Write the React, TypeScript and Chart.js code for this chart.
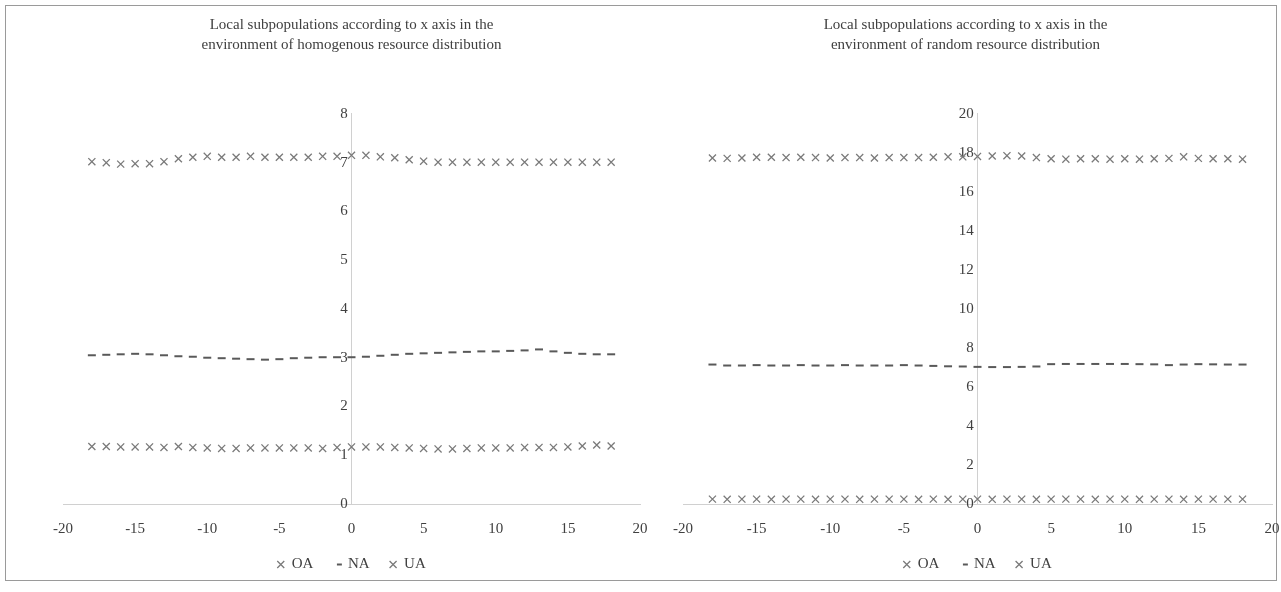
import React, { useEffect, useRef } from 'react';
import { Chart, registerables } from 'chart.js';

Chart.register(...registerables);

// ---------- data ----------
const xPositions = [
  -18, -17, -16, -15, -14, -13, -12, -11, -10, -9, -8, -7, -6, -5, -4, -3, -2, -1, 0,
  1, 2, 3, 4, 5, 6, 7, 8, 9, 10, 11, 12, 13, 14, 15, 16, 17, 18,
];

const seriesNames = ['OA', 'NA', 'UA'];

const leftTitle = [
  'Local subpopulations according to x axis in the',
  'environment of homogenous resource distribution',
];
const rightTitle = [
  'Local subpopulations according to x axis in the',
  'environment of random resource distribution',
];

const leftOA = [
  1.18, 1.18, 1.17, 1.17, 1.17, 1.16, 1.18, 1.16, 1.15, 1.14, 1.14, 1.15, 1.15, 1.15, 1.15, 1.15, 1.14, 1.16, 1.17,
  1.17, 1.17, 1.16, 1.15, 1.14, 1.13, 1.13, 1.14, 1.15, 1.15, 1.15, 1.16, 1.16, 1.16, 1.17, 1.19, 1.21, 1.19,
];
const leftNA = [
  3.05, 3.06, 3.07, 3.08, 3.07, 3.05, 3.03, 3.02, 3.0, 2.99, 2.98, 2.97, 2.96, 2.97, 2.99, 3.0, 3.01, 3.01, 3.01,
  3.02, 3.04, 3.06, 3.08, 3.09, 3.1, 3.11, 3.12, 3.13, 3.13, 3.14, 3.15, 3.17, 3.13, 3.1, 3.08, 3.07, 3.07,
];
const leftUA = [
  7.02, 7.0, 6.97, 6.98, 6.98, 7.02, 7.08, 7.11, 7.13, 7.11, 7.11, 7.13, 7.11, 7.11, 7.11, 7.11, 7.13, 7.13, 7.15,
  7.15, 7.12, 7.1, 7.06, 7.03, 7.01, 7.01, 7.01, 7.01, 7.01, 7.01, 7.01, 7.01, 7.01, 7.01, 7.01, 7.01, 7.01,
];

const rightOA = [
  0.25, 0.24, 0.25, 0.25, 0.24, 0.25, 0.25, 0.24, 0.25, 0.25, 0.24, 0.25, 0.25, 0.25, 0.24, 0.25, 0.24, 0.25, 0.25,
  0.24, 0.25, 0.25, 0.24, 0.25, 0.25, 0.25, 0.24, 0.25, 0.25, 0.24, 0.25, 0.25, 0.24, 0.25, 0.25, 0.25, 0.25,
];
const rightNA = [
  7.15, 7.1, 7.1, 7.12, 7.1, 7.1, 7.12, 7.1, 7.1, 7.12, 7.1, 7.1, 7.1, 7.12, 7.1, 7.08, 7.06, 7.05, 7.03,
  7.02, 7.02, 7.03, 7.05, 7.17, 7.18, 7.18, 7.18, 7.18, 7.18, 7.17, 7.16, 7.12, 7.15, 7.17, 7.16, 7.15, 7.15,
];
const rightUA = [
  17.74, 17.72, 17.74, 17.78, 17.78, 17.76, 17.78, 17.76, 17.74, 17.76, 17.76, 17.74, 17.76, 17.76, 17.76, 17.78,
  17.8, 17.8, 17.82, 17.84, 17.86, 17.84, 17.76, 17.7, 17.68, 17.7, 17.7, 17.68, 17.7, 17.68, 17.7, 17.72, 17.8,
  17.72, 17.7, 17.7, 17.68,
];

const xMin = -20;
const xMax = 20;
const xStep = 5;
const leftYMax = 8;
const leftYStep = 1;
const rightYMax = 20;
const rightYStep = 2;

// ---------- styles ----------
const FONT = "'Liberation Serif', 'Times New Roman', serif";
const TEXT = '#404040';
const CROSS = '#7a7a7a';
const DASH = '#595959';
const AXIS = '#d0d0d0';

type PanelProps = {
  title: string[];
  oa: number[];
  na: number[];
  ua: number[];
  yMax: number;
  yStep: number;
  left: number;
  width: number;
  padLeft: number;
  padRight: number;
  titleShift: number;
};

function ChartPanel(p: PanelProps) {
  const ref = useRef<HTMLCanvasElement | null>(null);

  useEffect(() => {
    if (!ref.current) return;
    const pts = (vals: number[]) => xPositions.map((x, i) => ({ x, y: vals[i] }));
    const crossDs = (label: string, vals: number[]) => ({
      label,
      data: pts(vals),
      showLine: false,
      pointStyle: 'crossRot',
      pointRadius: 5,
      pointHoverRadius: 5,
      pointBorderWidth: 1.3,
      pointBorderColor: CROSS,
      pointBackgroundColor: CROSS,
      borderColor: CROSS,
      backgroundColor: CROSS,
    });
    const dashDs = (label: string, vals: number[]) => ({
      label,
      data: pts(vals),
      showLine: false,
      pointStyle: 'line',
      pointRadius: 4,
      pointHoverRadius: 4,
      pointBorderWidth: 2,
      pointBorderColor: DASH,
      pointBackgroundColor: DASH,
      borderColor: DASH,
      backgroundColor: DASH,
    });

    const titleShiftPlugin = {
      id: 'titleShift',
      afterLayout(chart: any) {
        const t = chart.titleBlock;
        if (t) {
          t.left += p.titleShift;
          t.right += p.titleShift;
        }
      },
    };

    const font = { family: FONT, size: 15 };

    const chart = new Chart(ref.current, {
      type: 'scatter',
      data: {
        datasets: [
          crossDs(seriesNames[0], p.oa),
          dashDs(seriesNames[1], p.na),
          crossDs(seriesNames[2], p.ua),
        ] as any,
      },
      options: {
        animation: false,
        responsive: false,
        maintainAspectRatio: false,
        layout: { padding: { left: p.padLeft, right: p.padRight, top: 0, bottom: 10 } },
        plugins: {
          tooltip: { enabled: false },
          title: {
            display: true,
            text: p.title,
            color: TEXT,
            font: { family: FONT, size: 15, weight: 'normal', lineHeight: 1.33 },
            padding: { top: 5, bottom: 59 },
          },
          legend: {
            display: true,
            position: 'bottom',
            labels: {
              usePointStyle: true,
              boxWidth: 7,
              boxHeight: 7,
              padding: 20,
              color: TEXT,
              font,
              generateLabels(chart: any) {
                const items = Chart.defaults.plugins.legend.labels.generateLabels(chart);
                return items.map((it: any) =>
                  it.text === seriesNames[1] ? { ...it, pointStyle: 'dash' } : it
                );
              },
            },
          },
        },
        scales: {
          x: {
            type: 'linear',
            position: 'bottom',
            min: xMin,
            max: xMax,
            ticks: { stepSize: xStep, color: TEXT, font, padding: 16, maxRotation: 0, autoSkip: false },
            grid: { display: false, drawTicks: false },
            border: { display: true, color: AXIS, width: 1 },
            afterFit(scale: any) {
              scale.height -= 17;
            },
          },
          y: {
            type: 'linear',
            position: { x: 0 } as any,
            min: 0,
            max: p.yMax,
            ticks: {
              stepSize: p.yStep,
              color: TEXT,
              font,
              padding: 0,
              autoSkip: false,
              callback: (v: any) => `${v} `,
            },
            grid: { display: false, drawTicks: false },
            border: { display: true, color: AXIS, width: 1 },
          },
        },
      } as any,
      plugins: [titleShiftPlugin],
    });
    return () => chart.destroy();
  }, []);

  return (
    <canvas
      ref={ref}
      width={p.width}
      height={582}
      style={{ position: 'absolute', left: p.left, top: 10, width: p.width, height: 582 }}
    />
  );
}

export default function App() {
  return (
    <div
      style={{
        position: 'fixed',
        left: 0,
        top: 0,
        width: 1281,
        height: 592,
        background: '#ffffff',
        overflow: 'hidden',
      }}
    >
      <div
        style={{
          position: 'absolute',
          left: 5,
          top: 5,
          width: 1270,
          height: 574,
          border: '1px solid #9a9a9a',
        }}
      />
      <ChartPanel
        title={leftTitle}
        oa={leftOA}
        na={leftNA}
        ua={leftUA}
        yMax={leftYMax}
        yStep={leftYStep}
        left={10}
        width={660}
        padLeft={53}
        padRight={30}
        titleShift={0}
      />
      <ChartPanel
        title={rightTitle}
        oa={rightOA}
        na={rightNA}
        ua={rightUA}
        yMax={rightYMax}
        yStep={rightYStep}
        left={655}
        width={641}
        padLeft={28}
        padRight={24}
        titleShift={-12}
      />
    </div>
  );
}
